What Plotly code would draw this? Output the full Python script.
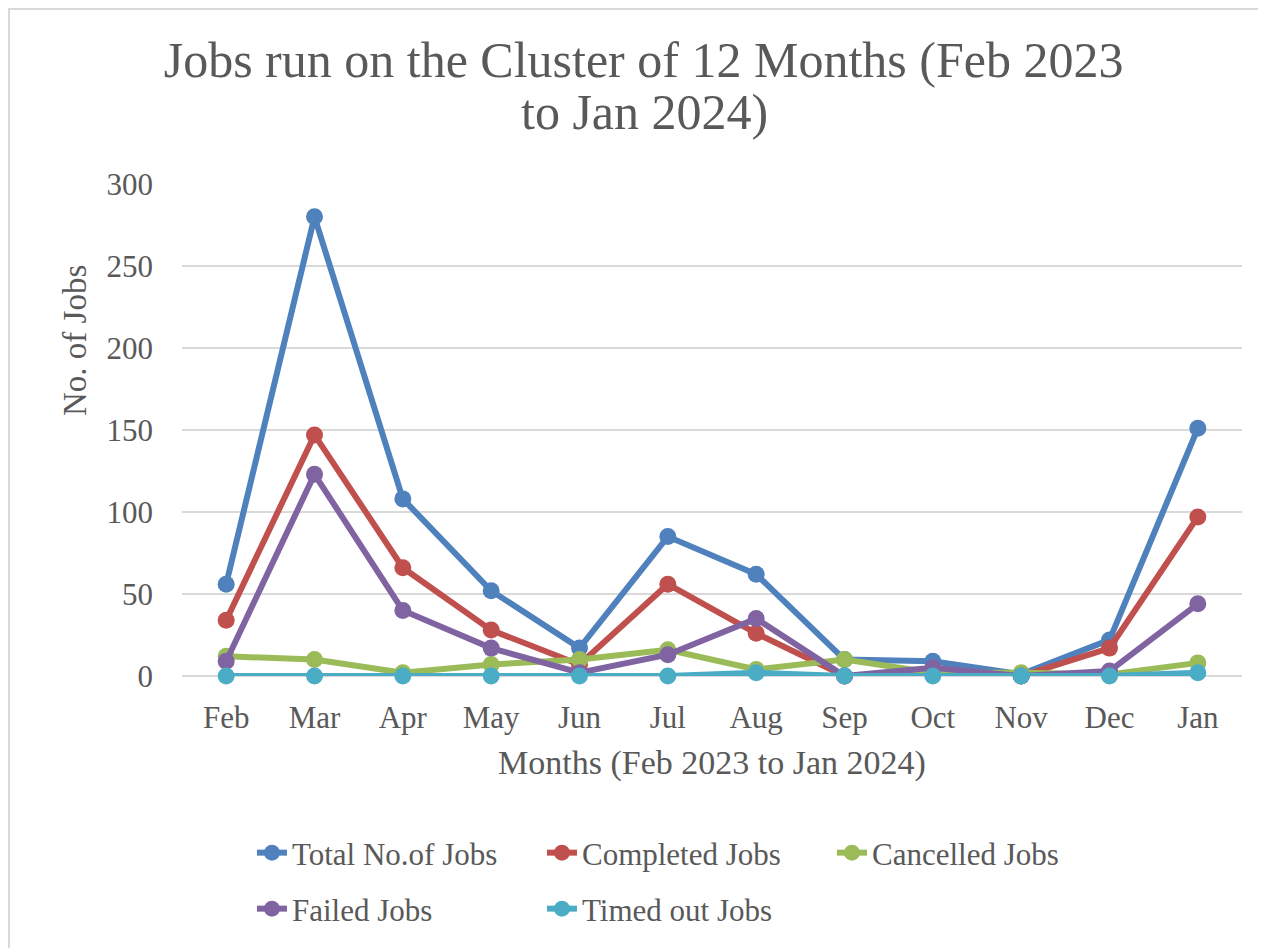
import plotly.graph_objects as go

months = ["Feb", "Mar", "Apr", "May", "Jun", "Jul", "Aug", "Sep", "Oct", "Nov", "Dec", "Jan"]
total = [56, 280, 108, 52, 17, 85, 62, 10, 9, 1, 22, 151]
completed = [34, 147, 66, 28, 7, 56, 26, 0, 2, 0, 17, 97]
cancelled = [12, 10, 2, 7, 10, 16, 4, 10, 2, 2, 1, 8]
failed = [9, 123, 40, 17, 2, 13, 35, 0, 5, 0, 3, 44]
timed_out = [0, 0, 0, 0, 0, 0, 2, 0, 0, 0, 0, 2]

series = [
    ("Total No.of Jobs", total, "#4F81BD", "legend"),
    ("Completed Jobs", completed, "#C0504D", "legend"),
    ("Cancelled Jobs", cancelled, "#9BBB59", "legend"),
    ("Failed Jobs", failed, "#8064A2", "legend2"),
    ("Timed out Jobs", timed_out, "#4BACC6", "legend2"),
]

FONT = "Liberation Serif"
TXT = "#595959"

fig = go.Figure()
for name, vals, col, lg in series:
    fig.add_trace(go.Scatter(
        x=months, y=vals, name=name, mode="lines+markers",
        line=dict(color=col, width=6),
        marker=dict(color=col, size=17),
        legend=lg, cliponaxis=False,
    ))

legend_common = dict(
    orientation="h", xanchor="left", yanchor="middle",
    font=dict(size=31, color=TXT), entrywidth=245, entrywidthmode="pixels",
    bgcolor="rgba(0,0,0,0)", traceorder="normal",
)

fig.update_layout(
    width=1258, height=940,
    paper_bgcolor="white", plot_bgcolor="white",
    margin=dict(l=174, r=24, t=176, b=272),
    font=dict(family=FONT, color=TXT, size=31),
    title=dict(
        text="Jobs run on the Cluster of 12 Months (Feb 2023",
        x=0.5052, xanchor="center", y=1 - 51 / 940, yanchor="middle",
        font=dict(family=FONT, size=50, color=TXT),
    ),
    xaxis=dict(
        range=[-0.5, 11.5], showgrid=False, zeroline=False,
        showline=False, ticks="", ticklabelstandoff=20,
        tickfont=dict(size=31, color=TXT),
        title=dict(text="Months (Feb 2023 to Jan 2024)", font=dict(size=34, color=TXT), standoff=16),
    ),
    yaxis=dict(
        range=[0, 300], dtick=50, showgrid=True, gridcolor="#D9D9D9", gridwidth=2,
        zeroline=True, zerolinecolor="#D9D9D9", zerolinewidth=2,
        showline=False, ticks="", ticklabelstandoff=28,
        tickfont=dict(size=31, color=TXT),
    ),
    legend=dict(x=0.066, y=(676 - 853) / 492, **legend_common),
    legend2=dict(x=0.066, y=(676 - 909) / 492, **legend_common),
    showlegend=True,
)

fig.add_annotation(
    text="to Jan 2024)", xref="paper", yref="paper",
    x=(636 - 174) / 1060, y=1 + (176 - 104) / 492,
    xanchor="center", yanchor="middle", showarrow=False,
    font=dict(family=FONT, size=50, color=TXT),
)

fig.add_annotation(
    text="No. of Jobs", xref="paper", yref="paper",
    x=(67 - 174) / 1060, y=(676 - 341) / 492, textangle=-90,
    xanchor="center", yanchor="middle", showarrow=False,
    font=dict(family=FONT, size=33, color=TXT),
)

fig.add_shape(type="rect", xref="paper", yref="paper",
              x0=(1 - 174) / 1060, x1=1.1, y0=-0.7, y1=1 + (176 - 1) / 492,
              line=dict(color="#D9D9D9", width=2), fillcolor="rgba(0,0,0,0)", layer="below")

fig.write_html("out.html")
